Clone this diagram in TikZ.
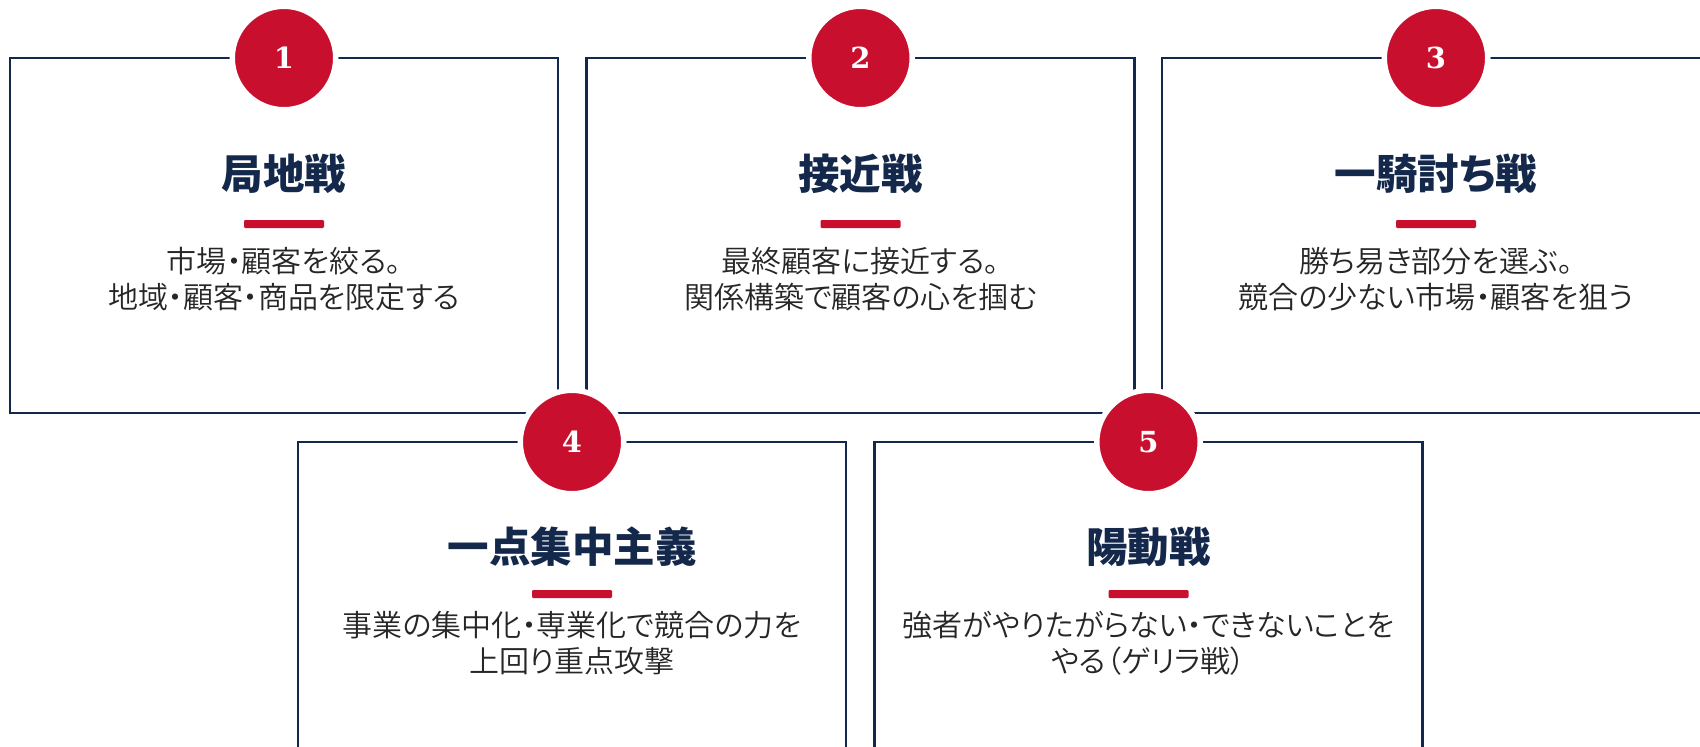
\documentclass[tikz,border=0pt]{standalone}
\usepackage{fontspec}
\newfontfamily\jp{Noto Sans CJK JP}[RawFeature=+palt]
\newfontfamily\jplight{Noto Sans CJK JP DemiLight}[RawFeature=+palt]
\newfontfamily\numfont{DejaVu Serif}
\definecolor{navy}{HTML}{14284B}
\definecolor{crimson}{HTML}{C8102E}
\definecolor{bodygray}{HTML}{262626}
\tikzset{
 card/.style={draw=navy, line width=1.35pt, minimum width=274pt, minimum height=177.5pt, inner sep=0pt},
 badge/.style={circle, fill=crimson, draw=white, line width=2.75pt, minimum size=51.75pt, inner sep=0pt,
   font=\fontsize{14.5pt}{14.5pt}\numfont\bfseries, text=white},
 ttl/.style={font=\fontsize{20.75pt}{24pt}\jp\bfseries, text=navy, inner sep=0pt},
 bar/.style={fill=crimson, minimum width=40pt, minimum height=4pt, inner sep=0pt, rounded corners=0.6pt},
 body/.style={font=\fontsize{15pt}{18pt}\jplight, text=bodygray, align=center, inner sep=0pt},
}
\begin{document}
\begin{tikzpicture}[x=0.5pt,y=-0.5pt]
\useasboundingbox (0,0) rectangle (1700,746);
\fill[white] (0,0) rectangle (1700,746);
\begin{scope}
\clip (0,0) rectangle (1700,746);
% cards
\node[card] (c1) at (284,235.5) {};
\node[card] (c2) at (860.5,235.5) {};
\node[card] (c3) at (1436,235.5) {};
\node[card] (c4) at (572,619.5) {};
\node[card] (c5) at (1148.5,619.5) {};
% badges
\node[badge] (n1) at (284,58) {1};
\node[badge] (n2) at (860.5,58) {2};
\node[badge] (n3) at (1436,58) {3};
\node[badge] (n4) at (572,442) {4};
\node[badge] (n5) at (1148.5,442) {5};
% titles
\node[ttl] (t1) at (284,174) {局地戦};
\node[ttl] (t2) at (860.5,174) {接近戦};
\node[ttl] (t3) at (1436,174) {一騎討ち戦};
\node[ttl] (t4) at (572,547) {一点集中主義};
\node[ttl] (t5) at (1148.5,547) {陽動戦};
% bars
\node[bar] (b1) at (284,224) {};
\node[bar] (b2) at (860.5,224) {};
\node[bar] (b3) at (1436,224) {};
\node[bar] (b4) at (572,594) {};
\node[bar] (b5) at (1148.5,594) {};
% bodies
\node[body] (d1) at (284,279.5) {市場・顧客を絞る。\\地域・顧客・商品を限定する};
\node[body] (d2) at (860.5,279.5) {最終顧客に接近する。\\関係構築で顧客の心を掴む};
\node[body] (d3) at (1436,279.5) {勝ち易き部分を選ぶ。\\競合の少ない市場・顧客を狙う};
\node[body] (d4) at (572,643.5) {事業の集中化・専業化で競合の力を\\上回り重点攻撃};
\node[body] (d5) at (1148.5,643.5) {強者がやりたがらない・できないことを\\やる（ゲリラ戦）};
\end{scope}
\end{tikzpicture}
\end{document}
